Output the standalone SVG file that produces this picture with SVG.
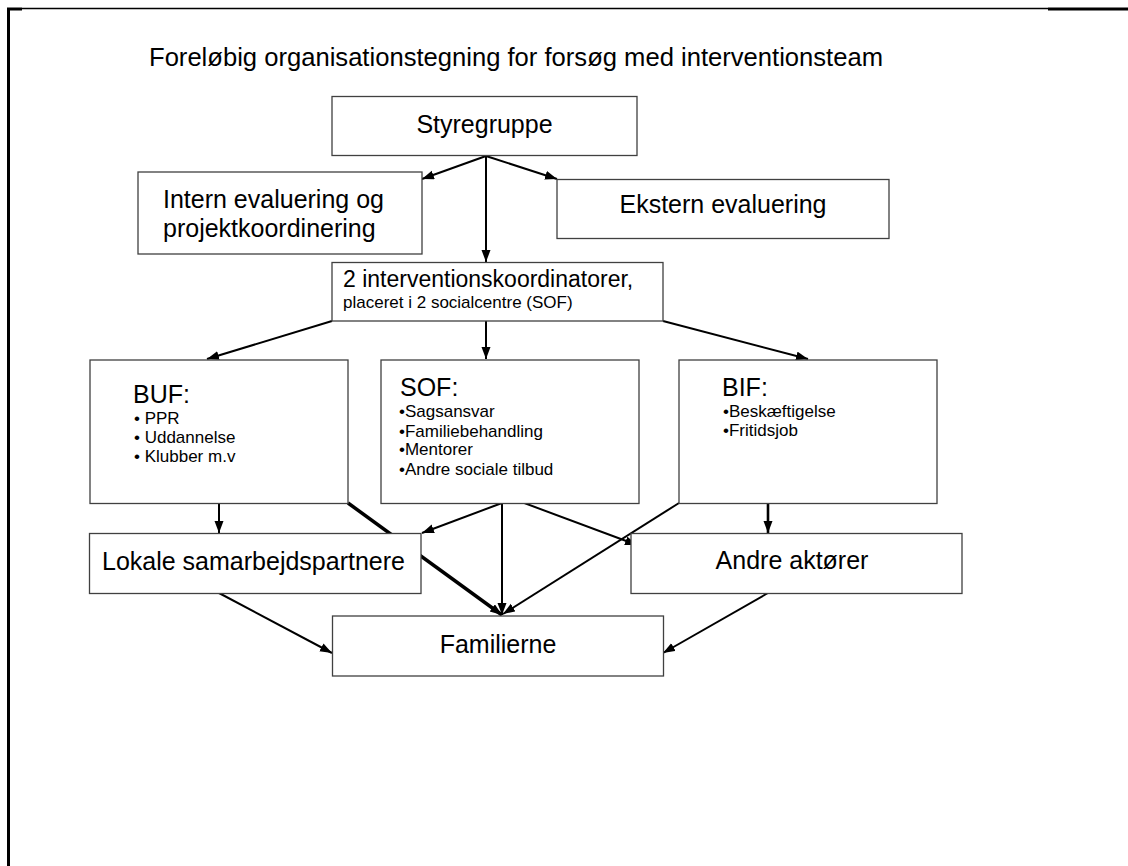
<svg xmlns="http://www.w3.org/2000/svg" width="1128" height="866" viewBox="0 0 1128 866">
<defs>
<style>
.box{fill:#fff;stroke:#404040;stroke-width:1.3}
.t{font-family:"Liberation Sans",Arial,sans-serif;fill:#000}
.lg{font-size:25px}
.md{font-size:17px}
.c{stroke:#000;stroke-width:2;fill:none;marker-end:url(#ah)}
.thick{stroke-width:3.5}
.mid{stroke-width:2.6}
</style>
<marker id="ah" markerUnits="userSpaceOnUse" markerWidth="13" markerHeight="10" refX="12" refY="4.5" orient="auto">
<path d="M0,0 L12,4.5 L0,9 z" fill="#000"/>
</marker>
</defs>
<rect width="1128" height="866" fill="#fff"/>
<g id="frame" fill="none" stroke="#000">
<path d="M8.5,866 V9 H22" stroke-width="3"/>
<path d="M22,8.5 H1048" stroke-width="1.5"/>
<path d="M1048,9 H1128" stroke-width="3"/>
</g>
<text class="t" x="149" y="66" font-size="25.5" textLength="734" lengthAdjust="spacingAndGlyphs">Foreløbig organisationstegning for forsøg med interventionsteam</text>
<g id="connectors">
<path class="c" d="M486,156 L422,179"/>
<path class="c" d="M486,156 L486,262"/>
<path class="c" d="M486,156 L557,179"/>
<path class="c" d="M332,321 L207,359"/>
<path class="c" d="M486,321 L486,359"/>
<path class="c" d="M663,321 L808,359"/>
<path class="c" d="M219,503 L219,533"/>
<path class="c thick" d="M348,503 L502,615"/>
<path class="c" d="M502,503 L422,533"/>
<path class="c" d="M502,503 L502,615"/>
<path class="c" d="M508,497 L637,545"/>
<path class="c mid" d="M768,503 L768,533"/>
<path class="c" d="M679,503 L503,614"/>
<path class="c" d="M219,593 L332,653"/>
<path class="c" d="M768,593 L663,653"/>
</g>
<g id="styregruppe">
<rect class="box" x="332" y="96.5" width="305" height="59"/>
<text class="t lg" x="484.5" y="133" text-anchor="middle">Styregruppe</text>
</g>
<g id="intern">
<rect class="box" x="138" y="172" width="284" height="82"/>
<text class="t lg" x="163" y="208">Intern evaluering og</text>
<text class="t lg" x="163" y="237">projektkoordinering</text>
</g>
<g id="ekstern">
<rect class="box" x="557" y="179.5" width="332" height="59"/>
<text class="t lg" x="723" y="213" text-anchor="middle">Ekstern evaluering</text>
</g>
<g id="koordinatorer">
<rect class="box" x="332" y="262.5" width="331" height="58.5"/>
<text class="t" x="343" y="287" font-size="23">2 interventionskoordinatorer,</text>
<text class="t md" x="343" y="308">placeret i 2 socialcentre (SOF)</text>
</g>
<g id="buf">
<rect class="box" x="90" y="360" width="258" height="143.5"/>
<text class="t lg" x="133" y="403">BUF:</text>
<text class="t md" x="134" y="424">• PPR</text>
<text class="t md" x="134" y="443">• Uddannelse</text>
<text class="t md" x="134" y="462">• Klubber m.v</text>
</g>
<g id="sof">
<rect class="box" x="381" y="360" width="258" height="143.5"/>
<text class="t lg" x="400" y="396">SOF:</text>
<text class="t md" x="399" y="417">•Sagsansvar</text>
<text class="t md" x="399" y="436.5">•Familiebehandling</text>
<text class="t md" x="399" y="455">•Mentorer</text>
<text class="t md" x="399" y="475">•Andre sociale tilbud</text>
</g>
<g id="bif">
<rect class="box" x="679" y="360" width="258" height="143.5"/>
<text class="t lg" x="722" y="396">BIF:</text>
<text class="t md" x="723" y="417">•Beskæftigelse</text>
<text class="t md" x="723" y="436">•Fritidsjob</text>
</g>
<g id="lokale">
<rect class="box" x="89.5" y="533.5" width="331.5" height="60"/>
<text class="t lg" x="102" y="570">Lokale samarbejdspartnere</text>
</g>
<g id="andre">
<rect class="box" x="631" y="533.5" width="331" height="60"/>
<text class="t lg" x="792" y="569" text-anchor="middle">Andre aktører</text>
</g>
<g id="familierne">
<rect class="box" x="332.5" y="616" width="331" height="60"/>
<text class="t lg" x="498" y="653" text-anchor="middle">Familierne</text>
</g>
</svg>
